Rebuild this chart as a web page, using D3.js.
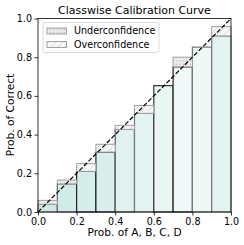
<!DOCTYPE html>
<html><head><meta charset="utf-8">
<script src="https://cdn.jsdelivr.net/npm/d3@7"></script>
<style>body{margin:0;background:#fff}svg{display:block}text{font-family:"DejaVu Sans",sans-serif}</style>
</head><body><svg id="c" width="244" height="245"></svg>
<script>
const binStarts = [0.0,0.1,0.2,0.3,0.4,0.5,0.6,0.7,0.8,0.9];
const accuracy   = [0.06,0.165,0.21,0.31,0.427,0.51,0.653,0.80,0.852,0.91];
const confidence = [0.04,0.145,0.25,0.35,0.448,0.55,0.653,0.75,0.852,0.958];
const ticks = [0,0.2,0.4,0.6,0.8,1.0];
const legendLabels = ["Underconfidence","Overconfidence"];
const title = "Classwise Calibration Curve";
const xLabel = "Prob. of A, B, C, D";
const yLabel = "Prob. of Correct";

const fills = ["#cce9e7","#d1ebe9","#d6eeeb","#d9efed","#e0f2f0","#e3f3f1","#e9f6f4","#f1f9f8","#eef8f7","#e3f3f1"];
const edges = ["#888","#666","#222","#222","#555","#777","#333","#222","#777","#777"];

const svg = d3.select("#c");
const x = d3.scaleLinear().domain([0,1]).range([38,231]);
const y = d3.scaleLinear().domain([0,1]).range([212,18.5]);

const defs = svg.append("defs");
const pd = defs.append("pattern").attr("id","dots").attr("patternUnits","userSpaceOnUse").attr("width",3.5).attr("height",3.5);
pd.append("rect").attr("width",3.5).attr("height",3.5).attr("fill","#ebebeb");
pd.append("circle").attr("cx",1.2).attr("cy",1.2).attr("r",0.6).attr("fill","#999");
const ph = defs.append("pattern").attr("id","hatch").attr("patternUnits","userSpaceOnUse").attr("width",7).attr("height",7);
ph.append("rect").attr("width",7).attr("height",7).attr("fill","#f7f7f7");
ph.append("path").attr("d","M-1,8 L8,-1 M-1,1 L1,-1 M6,8 L8,6").attr("stroke","#d2d2d2").attr("stroke-width",0.8);

const w = x(0.1)-x(0);
// bars
svg.append("g").selectAll("rect").data(binStarts).join("rect")
  .attr("x",d=>x(d)).attr("width",w)
  .attr("y",(d,i)=>y(Math.min(accuracy[i],confidence[i])))
  .attr("height",(d,i)=>y(0)-y(Math.min(accuracy[i],confidence[i])))
  .attr("fill",(d,i)=>fills[i]).attr("stroke",(d,i)=>edges[i]).attr("stroke-width",1.2);
// gaps
svg.append("g").selectAll("rect").data(binStarts.map((d,i)=>i).filter(i=>Math.abs(accuracy[i]-confidence[i])>0.001)).join("rect")
  .attr("x",i=>x(binStarts[i])).attr("width",w)
  .attr("y",i=>y(Math.max(accuracy[i],confidence[i])))
  .attr("height",i=>y(Math.min(accuracy[i],confidence[i]))-y(Math.max(accuracy[i],confidence[i])))
  .attr("fill",i=>accuracy[i]>confidence[i]?"url(#dots)":"url(#hatch)")
  .attr("stroke","#a0a0a0").attr("stroke-width",1);

// diagonal
svg.append("line").attr("x1",x(0)).attr("y1",y(0)).attr("x2",x(1)).attr("y2",y(1))
  .attr("stroke","#000").attr("stroke-width",1.2).attr("stroke-dasharray","4.5,2");

// axes
const xa = svg.append("g").attr("transform","translate(0,212)").call(d3.axisBottom(x).tickValues(ticks).tickFormat(d3.format(".1f")).tickSize(3.5).tickPadding(2.5));
const ya = svg.append("g").attr("transform","translate(38,0)").call(d3.axisLeft(y).tickValues(ticks).tickFormat(d3.format(".1f")).tickSize(3.5).tickPadding(2.5));
[xa,ya].forEach(a=>{a.selectAll("text").attr("font-size",9.6).attr("fill","#000").style("font-family","DejaVu Sans");a.select(".domain").remove();a.selectAll("line").attr("stroke","#000").attr("stroke-width",0.8);});
svg.append("rect").attr("x",38).attr("y",18.5).attr("width",193).attr("height",193.5).attr("fill","none").attr("stroke","#000").attr("stroke-width",0.8);

// legend
const lg = svg.append("g");
lg.append("rect").attr("x",43).attr("y",22.5).attr("width",116).attr("height",30).attr("rx",2).attr("fill","#fff").attr("fill-opacity",0.8).attr("stroke","#d0d0d0").attr("stroke-width",0.8);
legendLabels.forEach((t,i)=>{
  const yy = 28 + i*13.5;
  lg.append("rect").attr("x",47).attr("y",yy).attr("width",19.5).attr("height",6).attr("fill",i===0?"url(#dots)":"url(#hatch)").attr("stroke","#a0a0a0").attr("stroke-width",1);
  lg.append("text").attr("x",74).attr("y",yy+6.3).attr("font-size",9.6).text(t);
});

svg.append("text").attr("x",134.5).attr("y",14).attr("text-anchor","middle").attr("font-size",11).text(title);
svg.append("text").attr("x",134.5).attr("y",236).attr("text-anchor","middle").attr("font-size",10.6).text(xLabel);
svg.append("text").attr("transform","translate(14,115) rotate(-90)").attr("text-anchor","middle").attr("font-size",10.6).text(yLabel);
</script></body></html>
